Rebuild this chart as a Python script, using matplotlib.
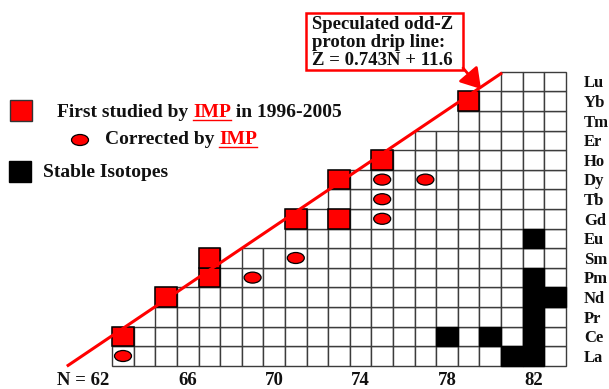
import matplotlib
matplotlib.use("Agg")
import matplotlib.pyplot as plt
from matplotlib.patches import Rectangle, Ellipse

# chart data
elements = ["La", "Ce", "Pr", "Nd", "Pm", "Sm", "Eu", "Gd",
            "Tb", "Dy", "Ho", "Er", "Tm", "Yb", "Lu"]
z_values = list(range(57, 72))
row_first_n = [63, 63, 65, 65, 67, 67, 71, 71, 73, 73, 75, 77, 79, 79, 81]
n_last = 83
missing_cells = [(68, 62)]  # (N, Z)

first_studied = [(63, 58), (65, 60), (67, 61), (67, 62), (71, 64),
                 (73, 64), (73, 66), (75, 67), (79, 70)]
corrected = [(63, 57), (69, 61), (71, 62), (75, 64), (75, 65),
             (75, 66), (77, 66)]
stable = [(81, 57), (82, 57), (78, 58), (80, 58), (82, 58), (82, 59),
          (82, 60), (83, 60), (82, 61), (82, 63)]

n_ticks = [62, 66, 70, 74, 78, 82]
drip_slope, drip_intercept = 0.743, 11.6
drip_n_range = [60.4, 80.55]

# pixel <-> data mapping (figure is 609 x 389 px)
W, H = 609, 389
DX, DY = 21.6, 19.6
PX0, PY0 = 123, 356  # centre of cell N=63, Z=57


def to_n(px):
    return 63 + (px - PX0) / DX


def to_z(py):
    return 57 + (PY0 - py) / DY


FONT = ["Liberation Serif", "DejaVu Serif"]
RED = "#ff0000"
GRID = "#3c3c3c"
INK = "#111111"

fig = plt.figure(figsize=(W / 100, H / 100), dpi=100)
ax = fig.add_axes([0, 0, 1, 1])
ax.set_xlim(to_n(0), to_n(W))
ax.set_ylim(to_z(H), to_z(0))
ax.axis("off")

# grid of nuclei
for z, n0 in zip(z_values, row_first_n):
    for n in range(n0, n_last + 1):
        if (n, z) in missing_cells:
            continue
        ax.add_patch(Rectangle((n - 0.5, z - 0.5), 1, 1, facecolor="white",
                               edgecolor=GRID, lw=1.0, zorder=1))

for n, z in stable:
    ax.add_patch(Rectangle((n - 0.5, z - 0.5), 1, 1, facecolor="black",
                           edgecolor="black", lw=1.0, zorder=2))

for n, z in first_studied:
    ax.add_patch(Rectangle((n - 0.5, z - 0.5), 1, 1, facecolor=RED,
                           edgecolor="black", lw=1.1, zorder=3))

ew, eh = 17 / DX, 11 / DY
for n, z in corrected:
    ax.add_patch(Ellipse((n, z), ew, eh, facecolor=RED,
                         edgecolor="black", lw=0.9, zorder=3))

# drip line
ax.plot(drip_n_range, [drip_slope * n + drip_intercept for n in drip_n_range],
        color=RED, lw=2.2, zorder=4, solid_capstyle="butt")

# element labels
for z, el in zip(z_values, elements):
    ax.text(to_n(584), z - 5.8 / DY, el, ha="left", va="baseline",
            fontsize=12, fontweight="bold", family=FONT, color=INK)

# N labels
for n in n_ticks:
    if n == n_ticks[0]:
        ax.text(to_n(109.5), to_z(385), "N = %d" % n, ha="right",
                va="baseline", fontsize=13.5, fontweight="bold", family=FONT,
                color=INK)
    else:
        ax.text(n, to_z(385), str(n), ha="center", va="baseline",
                fontsize=13.5, fontweight="bold", family=FONT, color=INK)

# annotation box with arrow
ax.add_patch(Rectangle((to_n(306), to_z(70)), 157 / DX, 57 / DY,
                       facecolor="white", edgecolor=RED, lw=1.8, zorder=5))
ax.text(to_n(312), to_z(65), "Speculated odd-Z\nproton drip line:\nZ = 0.743N + 11.6",
        ha="left", va="baseline", fontsize=13.5, fontweight="bold",
        family=FONT, linespacing=1.06, color=INK, zorder=6)
ax.annotate("", xy=(to_n(481), to_z(89)), xytext=(to_n(463), to_z(68)),
            arrowprops=dict(arrowstyle="-|>,head_length=0.8,head_width=0.5",
                            color=RED, lw=2, mutation_scale=15,
                            shrinkA=0, shrinkB=0), zorder=6)

# legend
renderer = fig.canvas.get_renderer()


def rich_text(px, py, parts, size=14):
    x = to_n(px)
    y = to_z(py)
    for txt, color, underline in parts:
        t = ax.text(x, y, txt, ha="left", va="baseline", fontsize=size,
                    fontweight="bold", family=FONT, color=color)
        bb = t.get_window_extent(renderer)
        x0 = ax.transData.inverted().transform((bb.x0, 0))[0]
        x1 = ax.transData.inverted().transform((bb.x1, 0))[0]
        if underline:
            ax.plot([x0, x1], [y - 2.3 / DY] * 2, color=color, lw=1.0)
        x = x1


ax.add_patch(Rectangle((to_n(10), to_z(121)), 22 / DX, 21 / DY,
                       facecolor=RED, edgecolor="#333333", lw=1.0))
rich_text(57, 117.5, [("First studied by ", INK, False),
                      ("IMP", RED, True),
                      (" in 1996-2005", INK, False)])

ax.add_patch(Ellipse((to_n(80), to_z(140)), ew, eh, facecolor=RED,
                     edgecolor="black", lw=0.9))
rich_text(105, 144.5, [("Corrected by ", INK, False),
                       ("IMP", RED, True)])

ax.add_patch(Rectangle((to_n(9), to_z(182)), 22 / DX, 21 / DY,
                       facecolor="black", edgecolor="black", lw=1.0))
rich_text(43, 177, [("Stable Isotopes", INK, False)])

fig.savefig("out.png", dpi=100)
